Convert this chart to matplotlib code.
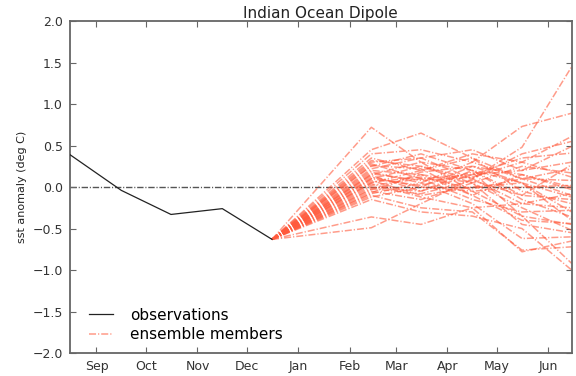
import matplotlib
matplotlib.use("Agg")
import matplotlib.pyplot as plt
import numpy as np

# ---- data ----
obs_dates = ["2018-08-30", "2018-09-30", "2018-10-30", "2018-11-30", "2018-12-30"]
obs_values = [0.39, -0.04, -0.33, -0.26, -0.63]

fc_dates = ["2018-12-30", "2019-02-28", "2019-03-30", "2019-04-30", "2019-05-30", "2019-06-29"]
# each member: values at Feb, Mar, Apr, May, Jun (starts from last observation)
members = [
    [0.72, 0.30, 0.20, 0.05, -0.30],
    [0.45, 0.65, 0.35, 0.10, -0.10],
    [-0.49, -0.20, 0.10, 0.48, 1.45],
    [0.40, 0.45, 0.30, 0.73, 0.89],
    [0.35, 0.20, 0.40, 0.30, 0.61],
    [0.30, 0.35, 0.45, 0.20, 0.49],
    [0.28, 0.10, 0.15, 0.35, 0.41],
    [0.25, 0.40, 0.20, -0.10, 0.27],
    [0.20, 0.15, 0.05, 0.25, 0.17],
    [0.18, 0.05, 0.30, 0.10, 0.08],
    [0.15, 0.30, -0.05, 0.00, 0.02],
    [0.12, 0.00, 0.25, 0.15, -0.03],
    [0.10, 0.25, 0.10, -0.20, -0.08],
    [0.08, -0.10, 0.00, 0.05, -0.12],
    [0.05, 0.20, 0.35, -0.05, -0.20],
    [0.02, 0.10, -0.15, -0.30, -0.28],
    [0.00, -0.05, 0.20, -0.15, -0.36],
    [-0.03, 0.15, -0.10, -0.40, -0.44],
    [-0.05, -0.15, 0.05, -0.25, -0.52],
    [-0.08, 0.05, -0.20, -0.62, -0.60],
    [-0.10, -0.25, -0.30, -0.76, -0.72],
    [-0.12, 0.00, -0.05, -0.35, -0.92],
    [-0.15, -0.30, -0.35, -0.50, -1.00],
    [-0.36, -0.45, -0.25, -0.78, -0.65],
    [0.22, 0.35, 0.10, 0.40, 0.55],
    [0.14, -0.05, 0.15, 0.20, 0.30],
    [0.06, 0.12, -0.02, 0.10, 0.22],
    [-0.02, -0.08, 0.08, -0.10, -0.15],
    [0.32, 0.25, 0.05, -0.45, -0.55],
    [0.16, 0.08, 0.12, 0.30, 0.12],
    [0.04, -0.12, -0.25, -0.20, -0.25],
    [-0.07, 0.18, 0.25, 0.05, -0.40],
    [0.26, 0.22, -0.10, 0.15, 0.00],
    [0.10, 0.02, 0.18, -0.35, -0.45],
]

tick_dates = ["2018-09-15", "2018-10-15", "2018-11-15", "2018-12-15", "2019-01-15",
              "2019-02-15", "2019-03-15", "2019-04-15", "2019-05-15", "2019-06-15"]
tick_labels = ["Sep", "Oct", "Nov", "Dec", "Jan", "Feb", "Mar", "Apr", "May", "Jun"]
yticks = [-2.0, -1.5, -1.0, -0.5, 0.0, 0.5, 1.0, 1.5, 2.0]

# ---- plot ----
fig = plt.figure(figsize=(5.76, 3.76), dpi=100)
ax = fig.add_axes([0.1215, 0.061, 0.871, 0.883])

od = np.array(obs_dates, dtype="datetime64[D]")
fd = np.array(fc_dates, dtype="datetime64[D]")

dashdot = (0, (4.6, 1.3, 0.8, 1.3))

ax.plot([np.datetime64("2018-08-30"), np.datetime64("2019-06-29")], [0.0, 0.0],
        color="#555555", ls=dashdot, lw=1.0, zorder=1)

for i, m in enumerate(members):
    vals = [obs_values[-1]] + m
    ax.plot(fd, vals, color="#ff5a3c", ls=dashdot, lw=1.1, alpha=0.6,
            label="ensemble members" if i == 0 else None, zorder=2)

ax.plot(od, obs_values, color="#222222", lw=0.9, label="observations", zorder=3)

ax.set_xlim(np.datetime64("2018-08-30"), np.datetime64("2019-06-29"))
ax.set_ylim(-2.0, 2.0)
ax.set_xticks(np.array(tick_dates, dtype="datetime64[D]"))
ax.set_xticklabels(tick_labels)
ax.set_yticks(yticks)
ax.set_yticklabels([f"{v:.1f}".replace("-", "\u2212") for v in yticks])

ax.tick_params(direction="in", top=True, right=True, labelsize=9, length=4,
               colors="#666666", labelcolor="#333333", pad=5)
for s in ax.spines.values():
    s.set_color("#666666")
    s.set_linewidth(1.3)

ax.set_ylabel("sst anomaly (deg C)", fontsize=8, color="#222222", labelpad=4)
ax.set_title("Indian Ocean Dipole", fontsize=11, color="#222222", pad=2.5)

handles, labels = ax.get_legend_handles_labels()
order = [labels.index("observations"), labels.index("ensemble members")]
ax.legend([handles[i] for i in order], [labels[i] for i in order],
          loc="lower left", frameon=False, fontsize=11, handlelength=1.6,
          handletextpad=1.1, labelspacing=0.3, borderaxespad=0.3,
          bbox_to_anchor=(0.016, 0.0))

fig.savefig("out.png", dpi=100)
